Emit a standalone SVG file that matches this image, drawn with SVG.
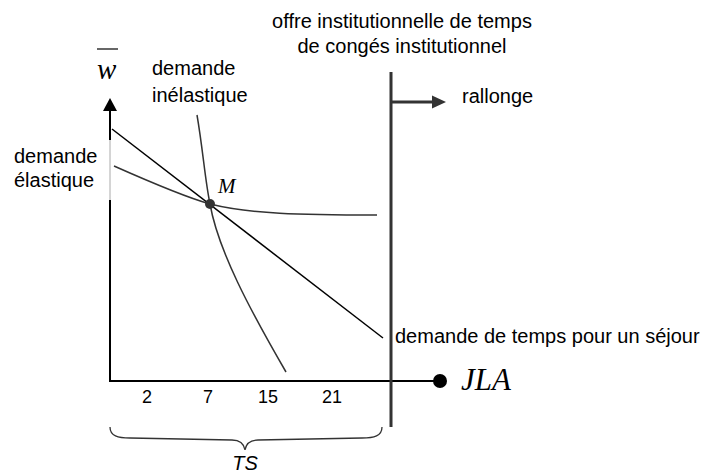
<svg xmlns="http://www.w3.org/2000/svg" width="712" height="474" viewBox="0 0 712 474">
<style>
.t{font-family:"Liberation Sans",Arial,sans-serif;font-size:20px;fill:#000}
.n{font-family:"Liberation Sans",Arial,sans-serif;font-size:18px;fill:#000}
.m{font-family:"Liberation Serif","Times New Roman",serif;font-style:italic;fill:#000}
.ax{stroke:#000;stroke-width:2;fill:none}
.cv{stroke:#333;stroke-width:1.5;fill:none}
.bold{stroke:#333;stroke-width:3;fill:none}
</style>
<rect width="712" height="474" fill="#fff"/>
<g id="axes">
<line class="ax" x1="110" y1="110" x2="110" y2="140"/>
<line x1="110" y1="140" x2="110" y2="200" stroke="#aaa" stroke-width="1"/>
<line class="ax" x1="110" y1="200" x2="110" y2="382"/>
<polygon points="110,98 103,111 117,111" fill="#000"/>
<line class="ax" x1="109" y1="381" x2="436" y2="381"/>
<circle cx="440" cy="381" r="7" fill="#000"/>
<line x1="97" y1="49" x2="118" y2="49" stroke="#000" stroke-width="1.2"/>
<text class="m" x="97" y="79" font-size="29">w</text>
<text class="m" x="461" y="390" font-size="31">JLA</text>
<text class="n" x="147" y="403" text-anchor="middle">2</text>
<text class="n" x="208" y="403" text-anchor="middle">7</text>
<text class="n" x="268" y="403" text-anchor="middle">15</text>
<text class="n" x="332" y="403" text-anchor="middle">21</text>
</g>
<g id="connectors">
<line x1="112" y1="129" x2="383" y2="338" stroke="#000" stroke-width="1.5"/>
<path class="cv" d="M114,166 C150,182 185,197 210,204 C250,214 300,215 377,215"/>
<path class="cv" d="M197,115 C203,150 205,180 210,204 C218,250 250,310 286,372"/>
<line class="bold" x1="391" y1="72" x2="391" y2="427"/>
<line class="bold" x1="391" y1="102" x2="434" y2="102"/>
<polygon points="446,102 432,95.5 432,108.5" fill="#333"/>
<path d="M110,427 C110,436 118,438 130,438 L232,440 C240,440 244,444 245,450 C246,444 250,440 258,440 L362,438 C374,438 382,436 382,427" stroke="#333" stroke-width="1.3" fill="none"/>
</g>
<g id="M">
<circle cx="210" cy="204" r="5" fill="#333"/>
<text class="m" x="218" y="193" font-size="21">M</text>
</g>
<g id="labels">
<text class="t" x="402" y="28" text-anchor="middle">offre institutionnelle de temps</text>
<text class="t" x="402" y="53" text-anchor="middle">de congés institutionnel</text>
<text class="t" x="462" y="103">rallonge</text>
<text class="t" x="152" y="75">demande</text>
<text class="t" x="152" y="102">inélastique</text>
<text class="t" x="14" y="163">demande</text>
<text class="t" x="14" y="187">élastique</text>
<text class="t" x="395" y="343">demande de temps pour un séjour</text>
<text class="t" x="245" y="470" text-anchor="middle" font-style="italic" font-size="19">TS</text>
</g>
</svg>
